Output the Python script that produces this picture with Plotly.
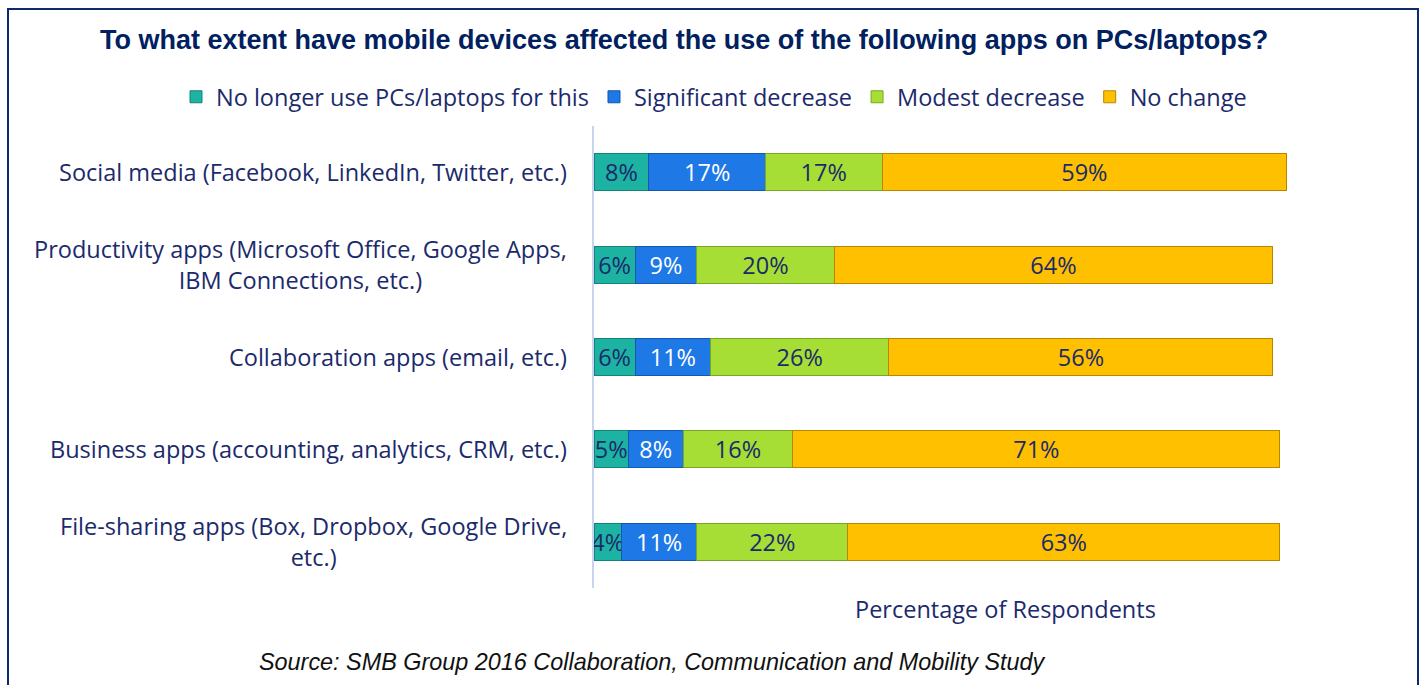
import plotly.graph_objects as go

categories = [
    "Social media (Facebook, LinkedIn, Twitter, etc.)",
    "Productivity apps (Microsoft Office, Google Apps,<br>IBM Connections, etc.)",
    "Collaboration apps (email, etc.)",
    "Business apps (accounting, analytics, CRM, etc.)",
    "File-sharing apps (Box, Dropbox, Google Drive,<br>etc.)",
]
cat_ids = ["c1", "c2", "c3", "c4", "c5"]
series_names = ["No longer use PCs/laptops for this", "Significant decrease", "Modest decrease", "No change"]
no_longer = [8, 6, 6, 5, 4]
significant = [17, 9, 11, 8, 11]
modest = [17, 20, 26, 16, 22]
no_change = [59, 64, 56, 71, 63]
series_values = [no_longer, significant, modest, no_change]

colors = ["#1DB3A2", "#1E78E6", "#A6DE36", "#FFC000"]
edge = ["#138576", "#1257B0", "#78A823", "#B88600"]
txtcol = ["#1B2A6B", "#FFFFFF", "#1B2A6B", "#1B2A6B"]
navy = "#1B2A6B"
FONT = "Open Sans"
FS = 23.5

L, R, T, B = 594, 5, 126, 97
W = 1422 - L - R
H = 685 - T - B
def px(x):
    return (x - L) / W
def py(y):
    return (685 - B - y) / H

fig = go.Figure()
for name, vals, c, e, tc in zip(series_names, series_values, colors, edge, txtcol):
    fig.add_trace(go.Bar(
        y=cat_ids, x=vals, name=name, orientation="h",
        marker=dict(color=c, line=dict(color=e, width=1)),
        text=[f"{v}%" for v in vals], textposition="inside", textangle=0,
        insidetextanchor="middle", constraintext="none",
        textfont=dict(family=FONT, size=FS, color=tc),
        hoverinfo="skip",
    ))

annotations = []
for cid, lab in zip(cat_ids, categories):
    annotations.append(dict(
        x=0, xref="paper", y=cid, yref="y", xanchor="right", yanchor="middle",
        xshift=-25, text=lab, align="center", showarrow=False,
        font=dict(family=FONT, size=FS, color=navy),
    ))
annotations.append(dict(
    x=px(1005), xref="paper", y=py(609), yref="paper", xanchor="center", yanchor="middle",
    text="Percentage of Respondents", showarrow=False,
    font=dict(family=FONT, size=FS, color=navy),
))
annotations.append(dict(
    x=px(683.5), xref="paper", y=py(40), yref="paper", xanchor="center", yanchor="middle",
    showarrow=False,
    text="<b>To what extent have mobile devices affected the use of the following apps on PCs/laptops?</b>",
    font=dict(family="Liberation Sans", size=27, color="#002060"),
))
annotations.append(dict(
    x=px(652), xref="paper", y=py(662), yref="paper", xanchor="center", yanchor="middle",
    showarrow=False,
    text="<i>Source: SMB Group 2016 Collaboration, Communication and Mobility Study</i>",
    font=dict(family="Liberation Sans", size=23.4, color="#111111"),
))

fig.update_layout(
    width=1422, height=685,
    barmode="stack", bargap=0.6,
    plot_bgcolor="white", paper_bgcolor="white",
    margin=dict(l=L, r=R, t=T, b=B, autoexpand=False),
    xaxis=dict(range=[0, 120], showgrid=False, showticklabels=False, zeroline=False, showline=False, fixedrange=True),
    yaxis=dict(categoryorder="array", categoryarray=cat_ids, autorange="reversed",
               showticklabels=False, showgrid=False, showline=True, linecolor="#C9D5EE", linewidth=2,
               zeroline=False),
    showlegend=True,
    legend=dict(orientation="h", xref="paper", yref="paper", x=px(176), xanchor="left",
                y=py(97), yanchor="middle", font=dict(family=FONT, size=FS, color=navy),
                traceorder="normal", itemclick=False, itemdoubleclick=False,
                bgcolor="rgba(0,0,0,0)"),
    annotations=annotations,
    shapes=[dict(type="rect", xref="paper", yref="paper", x0=px(8), x1=px(1418), y0=py(710), y1=py(9),
                 line=dict(color="#0D2A6E", width=2), fillcolor="rgba(0,0,0,0)", layer="below")],
)

fig.write_html("out.html", config={"displayModeBar": False},
               post_script="document.body.style.margin='0';document.body.style.overflow='hidden';")
